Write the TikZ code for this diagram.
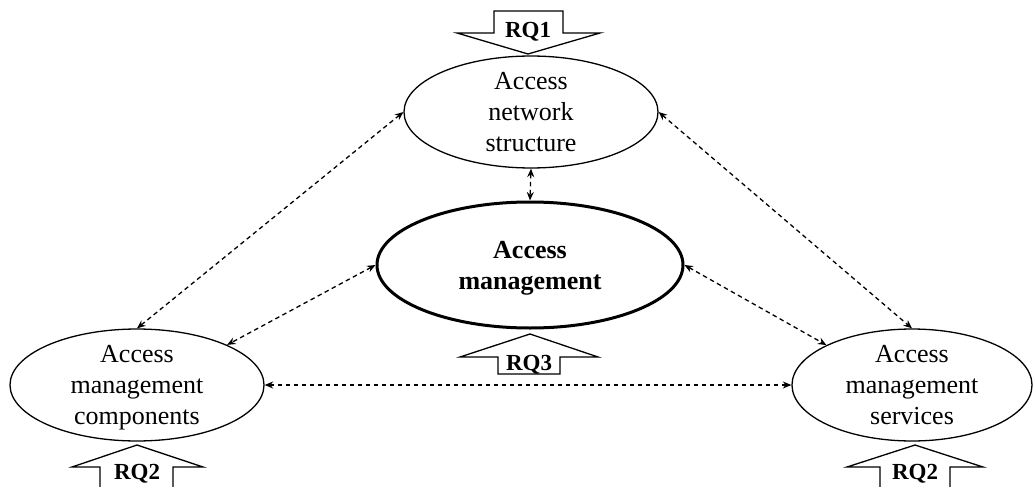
\documentclass[tikz,border=0pt]{standalone}
\usepackage{fontspec}
\setmainfont{Liberation Serif}
\usetikzlibrary{arrows.meta,shapes.geometric}

\tikzset{
  topic/.style={draw, ellipse, line width=1.3pt, inner sep=0pt, align=center,
    text depth=0pt, font=\fontsize{26}{31}\selectfont},
  core/.style={topic, line width=3pt, font=\fontsize{26}{31}\selectfont\bfseries},
  link/.style={line width=1.3pt, dash pattern=on 4.5pt off 3.5pt,
    {Stealth[length=8.5pt,width=7pt]}-{Stealth[length=8.5pt,width=7pt]}},
  blockarrow/.style={draw, fill=white, line width=1.3pt, line join=miter},
  rqlabel/.style={font=\fontsize{23}{25}\selectfont\bfseries, inner sep=0pt,
    text height=15.5pt, text depth=0pt}
}

\begin{document}
\begin{tikzpicture}[x=1pt, y=-1pt]
  \useasboundingbox (0,0) rectangle (1033,487);
  \clip (0,0) rectangle (1033,487);

  % research areas
  \node[topic, minimum width=254pt, minimum height=108pt] (net) at (531,112)
    {Access\\network\\structure};
  \node[core, minimum width=306pt, minimum height=126pt] (mgmt) at (530,265)
    {Access\\management};
  \node[topic, minimum width=254pt, minimum height=106pt] (comp) at (137,385)
    {Access\\management\\components};
  \node[topic, minimum width=240pt, minimum height=106pt] (serv) at (912,385)
    {Access\\management\\services};

  % relations
  \draw[link] (net.south) -- (mgmt.north);
  \draw[link] (net.west) -- (comp.north);
  \draw[link] (net.east) -- (serv.north);
  \draw[link] (mgmt.west) -- (comp.24);
  \draw[link] (mgmt.east) -- (serv.155);
  \draw[link] (comp.east) -- (serv.west);

  % research questions
  \draw[blockarrow] (494,11) -- (563,11) -- (563,33) -- (600,33) -- (528,54)
    -- (457,33) -- (494,33) -- cycle;
  \node[rqlabel] (rq1) at (528,30) {RQ1};

  \draw[blockarrow] (530,334) -- (598,357) -- (560,357) -- (560,374)
    -- (498,374) -- (498,357) -- (460,357) -- cycle;
  \node[rqlabel] (rq3) at (529,363) {RQ3};

  \draw[blockarrow] (137,445) -- (203,467) -- (173,467) -- (173,495)
    -- (100,495) -- (100,467) -- (72,467) -- cycle;
  \node[rqlabel] (rq2a) at (137,472) {RQ2};

  \draw[blockarrow] (915,445) -- (983,467) -- (950,467) -- (950,495)
    -- (880,495) -- (880,467) -- (847,467) -- cycle;
  \node[rqlabel] (rq2b) at (915,472) {RQ2};
\end{tikzpicture}
\end{document}
